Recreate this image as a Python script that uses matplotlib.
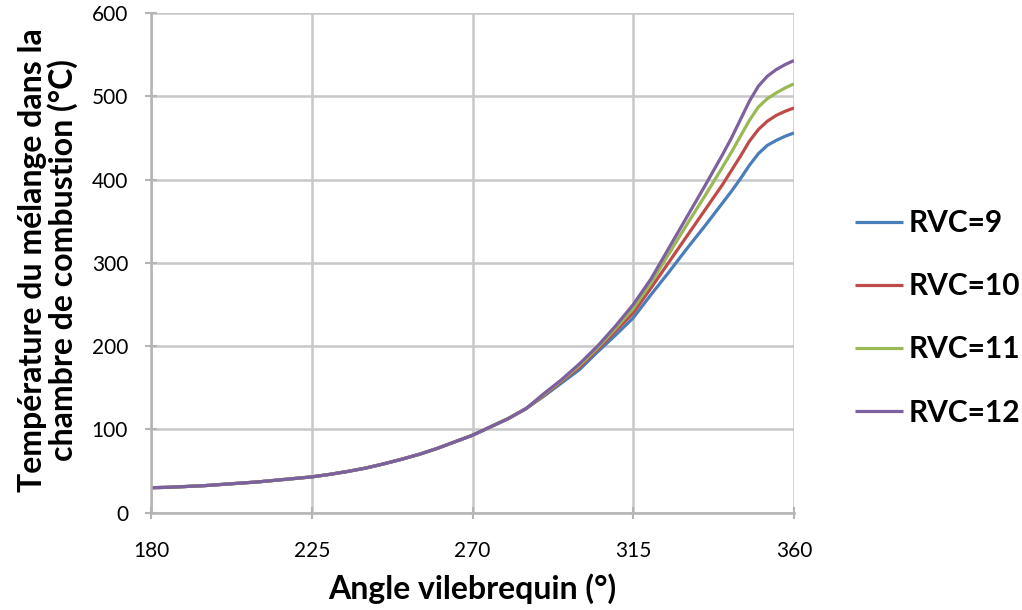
import matplotlib
matplotlib.use("Agg")
import matplotlib.pyplot as plt

angles = [180, 185, 190, 195, 200, 205, 210, 215, 220, 225, 230, 235, 240, 245,
          250, 255, 260, 265, 270, 275, 280, 285, 290, 295, 300, 305, 310, 315,
          320, 325, 330, 335, 340, 342.5, 345, 347.5, 350, 352.5, 355, 357.5, 360]

common = [30, 30.5, 31.5, 32.5, 34, 35.5, 37, 39, 41, 43, 46, 49.5, 53.5, 58.5,
          64, 70, 77, 85, 93, 103, 113, 125]

rvc9_tail = [140, 156, 172, 193, 213, 234, 262, 289, 317, 344, 372, 386, 401, 417,
             431, 441, 447, 452, 456]
rvc10_tail = [141, 158, 175, 196, 218, 240, 270, 301, 332, 363, 394, 411, 428, 446,
              460, 470, 477, 482, 486]
rvc11_tail = [142, 159, 177, 198, 221, 245, 276, 311, 346, 380, 415, 433, 452, 471,
              487, 497, 504, 510, 515]
rvc12_tail = [143, 160, 179, 200, 224, 250, 281, 318, 355, 392, 430, 450, 472, 494,
              512, 524, 532, 538, 543]

rvc9 = common + rvc9_tail
rvc10 = common + rvc10_tail
rvc11 = common + rvc11_tail
rvc12 = common + rvc12_tail

labels = ["RVC=9", "RVC=10", "RVC=11", "RVC=12"]
colors = ["#4a7ebb", "#be4b48", "#98b954", "#7d60a0"]

xticks = [180, 225, 270, 315, 360]
yticks = [0, 100, 200, 300, 400, 500, 600]

plt.rcParams['font.family'] = ['Lato', 'DejaVu Sans']

fig = plt.figure(figsize=(10.22, 6.10), dpi=100)
ax = fig.add_axes([151/1022, 1 - 512.7/610, (794 - 151)/1022, (512.7 - 13)/610])

for series, lab, col in zip([rvc9, rvc10, rvc11, rvc12], labels, colors):
    ax.plot(angles, series, color=col, lw=2.3, label=lab, solid_capstyle='butt',
            solid_joinstyle='round')

ax.set_xlim(180, 360)
ax.set_ylim(0, 600)
ax.set_xticks(xticks)
ax.set_yticks(yticks)
ax.grid(True, color="#c8c8c8", lw=1.8)
ax.set_axisbelow(True)
for s in ["top", "right"]:
    ax.spines[s].set_visible(False)
for s in ["left", "bottom"]:
    ax.spines[s].set_color("#b4b4b4")
    ax.spines[s].set_linewidth(1.8)
ax.tick_params(axis='both', direction='inout', length=9, width=1.5, color="#b4b4b4",
               labelsize=15)
ax.tick_params(axis='x', pad=16)
ax.tick_params(axis='y', pad=12)

ax.set_xlabel("Angle vilebrequin (°)", fontsize=23, fontweight='bold')
ax.xaxis.label.set_verticalalignment('center')
ax.xaxis.set_label_coords(0.5, -0.151)
ax.set_ylabel("Température du mélange dans la\nchambre de combustion (°C)",
              fontsize=23, fontweight='bold', linespacing=1.0)
ax.yaxis.label.set_verticalalignment('center')
ax.yaxis.set_label_coords(-0.16, 0.505)

leg = ax.legend(loc='center left', bbox_to_anchor=(1.095, 0.39), frameon=False,
                fontsize=21.5, handlelength=1.6, handletextpad=0.2,
                labelspacing=1.18, borderaxespad=0, borderpad=0)
for t in leg.get_texts():
    t.set_fontweight('bold')
for l in leg.get_lines():
    l.set_linewidth(2.3)

fig.savefig("out.png", dpi=100)
